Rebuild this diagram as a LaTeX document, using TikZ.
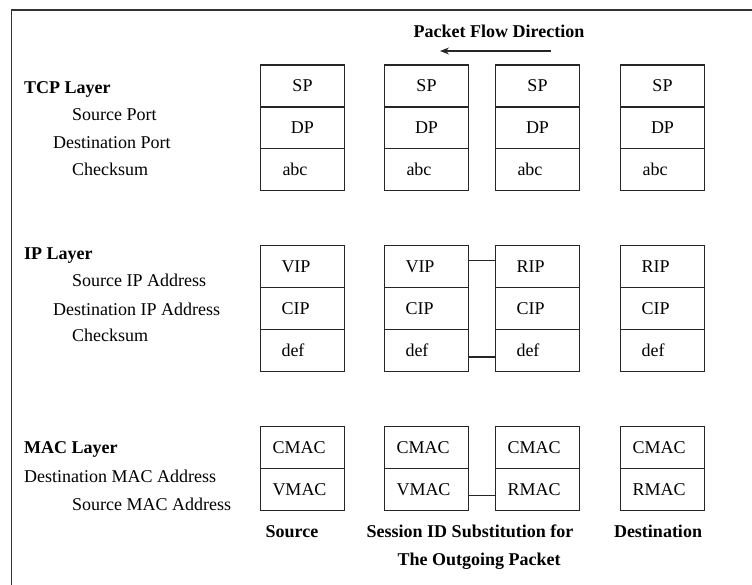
\documentclass[tikz,border=0pt]{standalone}
\usepackage{fontspec}
\setmainfont{Liberation Serif}
\usetikzlibrary{arrows.meta}
\begin{document}
\begin{tikzpicture}[x=1pt,y=-1pt,
  every node/.style={font=\fontsize{18}{20}\selectfont},
  lbl/.style={anchor=base west,inner sep=0pt},
  blbl/.style={anchor=base,inner sep=0pt,font=\fontsize{18}{20}\selectfont\bfseries},
  cellbase/.style={draw=black!85,line width=1.3pt,minimum width=84pt,minimum height=41.9pt,inner ysep=0pt},
  cellc/.style={cellbase,inner xsep=0pt},
  cellabc/.style={cellbase,inner xsep=22pt,text width=40pt,align=left},
  cellip/.style={cellbase,inner xsep=21pt,text width=42pt,align=left},
  cellmac/.style={cellbase,inner xsep=12pt,text width=60pt,align=left},
  conn/.style={draw=black!85,line width=1.3pt},
  frame/.style={draw=black!80,line width=1.8pt}
]
\useasboundingbox (0,0) rectangle (752,585);
% frame
\coordinate (ftr) at (752,10);
\coordinate (ftl) at (11.5,10);
\coordinate (fbl) at (11.5,585);
\draw[frame] (ftr) -- (ftl) -- (fbl);

% title and arrow
\node[blbl] (title) at (499,37.5) {Packet Flow Direction};
\coordinate (arrS) at (551,51);
\coordinate (arrE) at (440,51);
\draw[conn,-{Stealth[length=9pt,width=7pt]}] (arrS) -- (arrE);

% left labels
\node[lbl,font=\fontsize{18}{20}\selectfont\bfseries] (tcpL) at (24,93.5) {TCP Layer};
\node[lbl] (tcp1) at (72,120.5) {Source Port};
\node[lbl] (tcp2) at (53,148.5) {Destination Port};
\node[lbl] (tcp3) at (72,175.5) {Checksum};

\node[lbl,font=\fontsize{18}{20}\selectfont\bfseries] (ipL) at (24,260) {IP Layer};
\node[lbl] (ip1) at (72,286.7) {Source IP Address};
\node[lbl] (ip2) at (53,315) {Destination IP Address};
\node[lbl] (ip3) at (72,341.7) {Checksum};

\node[lbl,font=\fontsize{18}{20}\selectfont\bfseries] (macL) at (24,453.3) {MAC Layer};
\node[lbl] (mac1) at (24,482.7) {Destination MAC Address};
\node[lbl] (mac2) at (72,510) {Source MAC Address};

% TCP cells
\foreach \c/\x in {a/302.5,b/426.5,c/537.5,d/662.5}{
  \node[cellc] (\c sp) at (\x,85.95) {SP};
  \node[cellc] (\c dp) at (\x,127.85) {DP};
  \node[cellabc] (\c abc) at (\x,169.75) {abc};
}
% IP cells
\node[cellip] (avip) at (302.5,266.65) {VIP};
\node[cellip] (acip) at (302.5,308.55) {CIP};
\node[cellip] (adef) at (302.5,350.45) {def};
\node[cellip] (bvip) at (426.5,266.65) {VIP};
\node[cellip] (bcip) at (426.5,308.55) {CIP};
\node[cellip] (bdef) at (426.5,350.45) {def};
\node[cellip] (crip) at (537.5,266.65) {RIP};
\node[cellip] (ccip) at (537.5,308.55) {CIP};
\node[cellip] (cdef) at (537.5,350.45) {def};
\node[cellip] (drip) at (662.5,266.65) {RIP};
\node[cellip] (dcip) at (662.5,308.55) {CIP};
\node[cellip] (ddef) at (662.5,350.45) {def};
% MAC cells
\node[cellmac] (acmac) at (302.5,447.65) {CMAC};
\node[cellmac] (avmac) at (302.5,489.55) {VMAC};
\node[cellmac] (bcmac) at (426.5,447.65) {CMAC};
\node[cellmac] (bvmac) at (426.5,489.55) {VMAC};
\node[cellmac] (ccmac) at (537.5,447.65) {CMAC};
\node[cellmac] (crmac) at (537.5,489.55) {RMAC};
\node[cellmac] (dcmac) at (662.5,447.65) {CMAC};
\node[cellmac] (drmac) at (662.5,489.55) {RMAC};

% connectors
\draw[conn] ([yshift=6.3pt]bvip.east) -- ([yshift=6.3pt]crip.west);
\draw[conn] ([yshift=-6.5pt]bdef.east) -- ([yshift=-6.5pt]cdef.west);
\draw[conn] ([yshift=-6.2pt]bvmac.east) -- ([yshift=-6.2pt]crmac.west);

% bottom labels
\node[blbl] (srcL) at (292,537.7) {Source};
\node[blbl] (sesL1) at (470,537.7) {Session ID Substitution for};
\node[blbl] (sesL2) at (479,565) {The Outgoing Packet};
\node[blbl] (dstL) at (658,537.7) {Destination};
\end{tikzpicture}
\end{document}
